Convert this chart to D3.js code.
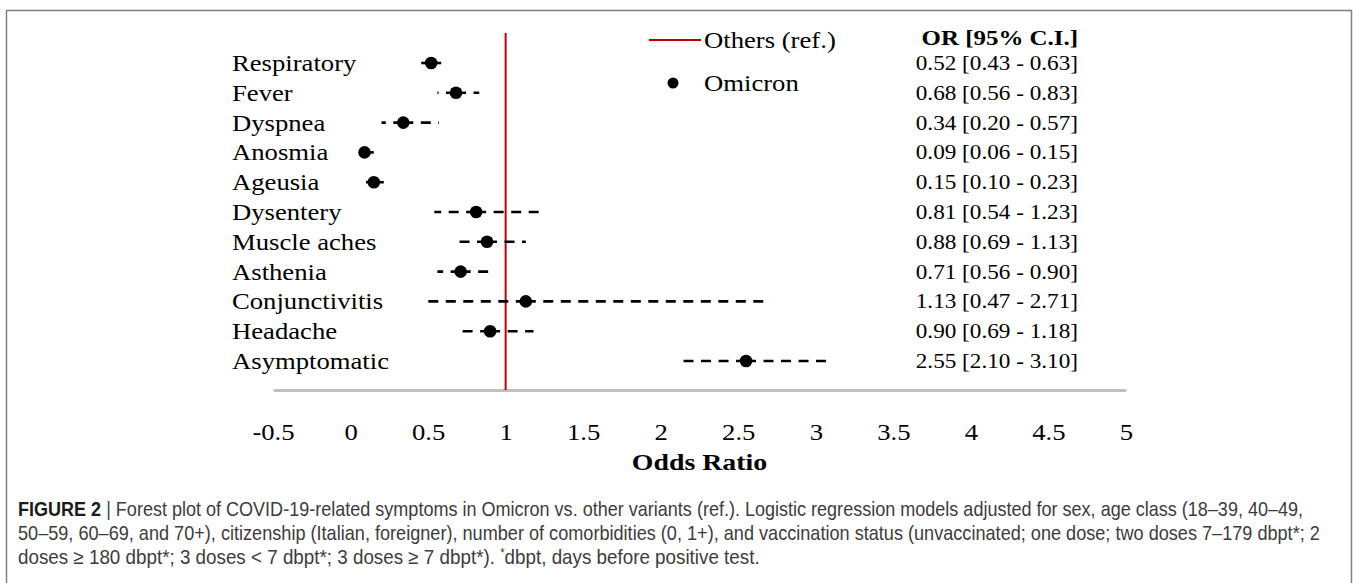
<!DOCTYPE html>
<html>
<head>
<meta charset="utf-8">
<script src="https://cdn.jsdelivr.net/npm/d3@7"></script>
<style>
  body { margin: 0; background: #fff; }
  svg { display: block; }
</style>
</head>
<body>
<div id="chart"></div>
<script>
// Forest plot data
const symptoms = ['Respiratory', 'Fever', 'Dyspnea', 'Anosmia', 'Ageusia', 'Dysentery',
    'Muscle aches', 'Asthenia', 'Conjunctivitis', 'Headache', 'Asymptomatic'];
const oddsRatio = [0.52, 0.68, 0.34, 0.09, 0.15, 0.81, 0.88, 0.71, 1.13, 0.90, 2.55];
const ciLower = [0.43, 0.56, 0.20, 0.06, 0.10, 0.54, 0.69, 0.56, 0.47, 0.69, 2.10];
const ciUpper = [0.63, 0.83, 0.57, 0.15, 0.23, 1.23, 1.13, 0.90, 2.71, 1.18, 3.10];
const xTicks = [-0.5, 0, 0.5, 1, 1.5, 2, 2.5, 3, 3.5, 4, 4.5, 5];
const refValue = 1;

const captionLines = [
    'Forest plot of COVID-19-related symptoms in Omicron vs. other variants (ref.). Logistic regression models adjusted for sex, age class (18\u201339, 40\u201349,',
    '50\u201359, 60\u201369, and 70+), citizenship (Italian, foreigner), number of comorbidities (0, 1+), and vaccination status (unvaccinated; one dose; two doses 7\u2013179 dbpt*; 2',
    'doses \u2265 180 dbpt*; 3 doses < 7 dbpt*; 3 doses \u2265 7 dbpt*). '
];

const width = 1357;
const height = 583;
const serif = '"Liberation Serif", "Times New Roman", serif';
const stretch = 'scale(1.16,1)';

const svg = d3.select('#chart')
    .append('svg')
    .attr('width', width)
    .attr('height', height);

// outer frame
svg.append('rect')
    .attr('x', 6.5).attr('y', 10.5)
    .attr('width', 1345).attr('height', 640)
    .attr('fill', 'none')
    .attr('stroke', '#7f7f7f')
    .attr('stroke-width', 1.5);

const x = d3.scaleLinear().domain([-0.5, 5]).range([273, 1126]);
const y = d3.scalePoint().domain(symptoms).range([63, 361]);
const axisY = 390;

// x axis
const axis = svg.append('g')
    .attr('transform', `translate(0,${axisY})`)
    .call(d3.axisBottom(x).tickValues(xTicks).tickSize(0).tickSizeOuter(0)
        .tickFormat(d => String(d)));
axis.select('.domain').attr('stroke', '#bfbfbf').attr('stroke-width', 3);
axis.selectAll('text')
    .attr('y', 50).attr('dy', 0)
    .attr('transform', stretch)
    .attr('fill', '#000')
    .style('font-family', serif)
    .style('font-size', '23px');

svg.append('text')
    .attr('transform', `translate(${x(2.25)},470) ${stretch}`)
    .attr('text-anchor', 'middle')
    .style('font-family', serif)
    .style('font-size', '24px')
    .style('font-weight', 'bold')
    .text('Odds Ratio');

// reference line
svg.append('line')
    .attr('x1', x(refValue)).attr('x2', x(refValue))
    .attr('y1', 33).attr('y2', axisY)
    .attr('stroke', '#c00000')
    .attr('stroke-width', 2);

const rows = symptoms.map((s, i) => ({
    name: s, or: oddsRatio[i], lo: ciLower[i], hi: ciUpper[i]
}));

// CI: two dashed segments from the point outward
const ci = svg.append('g');
rows.forEach(d => {
    [d.lo, d.hi].forEach(end => {
        ci.append('line')
            .attr('x1', x(d.or)).attr('x2', x(end))
            .attr('y1', y(d.name)).attr('y2', y(d.name))
            .attr('stroke', '#000')
            .attr('stroke-width', 2.6)
            .attr('stroke-dasharray', '10,7.5');
    });
});

svg.append('g')
    .selectAll('circle')
    .data(rows)
    .enter()
    .append('circle')
    .attr('cx', d => x(d.or))
    .attr('cy', d => y(d.name))
    .attr('r', 6.3)
    .attr('fill', '#000');

// row labels
svg.append('g')
    .selectAll('text')
    .data(rows)
    .enter()
    .append('text')
    .attr('transform', d => `translate(232,${y(d.name) + 8}) ${stretch}`)
    .style('font-family', serif)
    .style('font-size', '23px')
    .text(d => d.name);

// OR [CI] column
svg.append('text')
    .attr('transform', `translate(1078,45) ${stretch}`)
    .attr('text-anchor', 'end')
    .style('font-family', serif)
    .style('font-size', '21.5px')
    .style('font-weight', 'bold')
    .text('OR [95% C.I.]');

svg.append('g')
    .selectAll('text')
    .data(rows)
    .enter()
    .append('text')
    .attr('transform', d => `translate(1078,${y(d.name) + 7}) ${stretch}`)
    .attr('text-anchor', 'end')
    .style('font-family', serif)
    .style('font-size', '20px')
    .text(d => `${d.or.toFixed(2)} [${d.lo.toFixed(2)} - ${d.hi.toFixed(2)}]`);

// legend
const legend = svg.append('g');
legend.append('line')
    .attr('x1', 649).attr('x2', 701)
    .attr('y1', 40).attr('y2', 40)
    .attr('stroke', '#c00000').attr('stroke-width', 2);
legend.append('text')
    .attr('transform', `translate(704,48) ${stretch}`)
    .style('font-family', serif).style('font-size', '23px')
    .text('Others (ref.)');
legend.append('circle')
    .attr('cx', 673).attr('cy', 83).attr('r', 5.5).attr('fill', '#000');
legend.append('text')
    .attr('transform', `translate(704,91) ${stretch}`)
    .style('font-family', serif).style('font-size', '23px')
    .text('Omicron');

// caption, squeezed horizontally to the widths seen in the figure
const sans = '"Liberation Sans", Arial, sans-serif';
const capWidths = [1286, 1302, 742];
const capY = [516, 540, 564];
captionLines.forEach((line, i) => {
    const t = svg.append('text')
        .style('font-family', sans)
        .style('font-size', '20px')
        .attr('fill', '#3c3c3c');
    if (i === 0) {
        t.append('tspan').style('font-weight', 'bold').attr('fill', '#1a1a1a').text('FIGURE 2 ');
        t.append('tspan').attr('fill', '#444').text('| ');
    }
    t.append('tspan').text(line);
    if (i === 2) {
        t.append('tspan').attr('dy', -7).style('font-size', '12px').text('*');
        t.append('tspan').attr('dy', 7).text('dbpt, days before positive test.');
    }
    const len = t.node().getComputedTextLength();
    t.attr('transform', `translate(18,${capY[i]}) scale(${capWidths[i] / len},1)`);
});
</script>
</body>
</html>
